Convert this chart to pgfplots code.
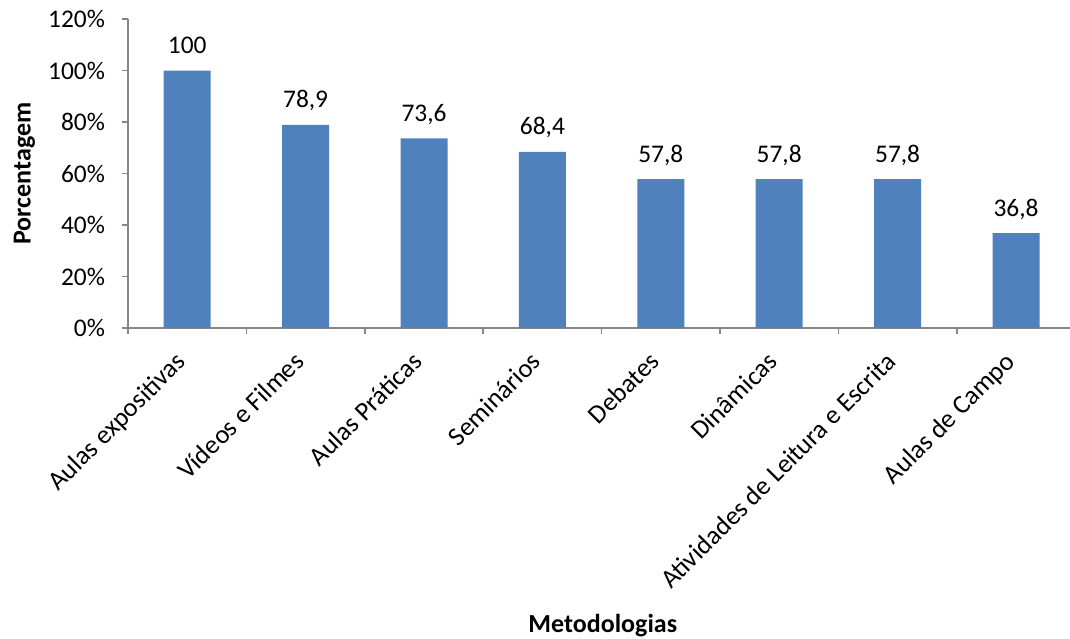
\documentclass[border=0pt]{standalone}
\usepackage{pgfplots}
\pgfplotsset{compat=1.18}
\usepackage{fontspec}
\setmainfont{Carlito}
\definecolor{barblue}{HTML}{4F81BD}
\definecolor{axgray}{HTML}{868686}
\begin{document}
\begin{tikzpicture}
\begin{axis}[
  at={(0,0)}, anchor=south west,
  scale only axis,
  width=471pt, height=154.5pt,
  xmin=-0.5, xmax=7.456,
  ymin=0, ymax=120,
  axis x line=bottom, axis y line=left,
  axis line style={-, draw=axgray, line width=0.8pt},
  ytick={0,20,...,120},
  yticklabel={\pgfmathprintnumber{\tick}\%},
  xtick={0,...,7},
  xticklabels={Aulas expositivas, Vídeos e Filmes, Aulas Práticas, Seminários, Debates, Dinâmicas, Atividades de Leitura e Escrita, Aulas de Campo},
  minor xtick={-0.5,0.5,...,7.5},
  major x tick style={draw=none},
  minor x tick style={draw=axgray, line width=0.8pt},
  y tick style={draw=axgray, line width=0.8pt},
  tick align=outside,
  major tick length=3pt, minor tick length=3pt,
  tick label style={font=\fontsize{12.7}{15}\selectfont},
  yticklabel style={xshift=-5pt},
  xticklabel style={rotate=45, anchor=north east, inner sep=1pt, xshift=-9.2pt, font=\fontsize{13.2}{15}\selectfont},
  /pgf/number format/assume math mode=true,
  ybar, bar width=23.5pt,
  ylabel={\textbf{Porcentagem}},
  ylabel style={at={(axis description cs:-0.11,0.5)}, anchor=center, font=\fontsize{13}{15}\selectfont},
  xlabel={\textbf{Metodologias}},
  xlabel style={at={(axis description cs:0.504,-0.963)}, anchor=center, font=\fontsize{13}{15}\selectfont},
  nodes near coords={\pgfmathprintnumber[use comma]{\pgfplotspointmeta}},
  nodes near coords style={anchor=base, yshift=8.5pt, font=\fontsize{12.7}{15}\selectfont, inner sep=0pt},
  clip=false,
]
\addplot[fill=barblue, draw=none] coordinates {(0,100) (1,78.9) (2,73.6) (3,68.4) (4,57.8) (5,57.8) (6,57.8) (7,36.8)};
\end{axis}
\pgfresetboundingbox
\useasboundingbox (-64pt,-155pt) rectangle (471pt,164pt);
\end{tikzpicture}
\end{document}
